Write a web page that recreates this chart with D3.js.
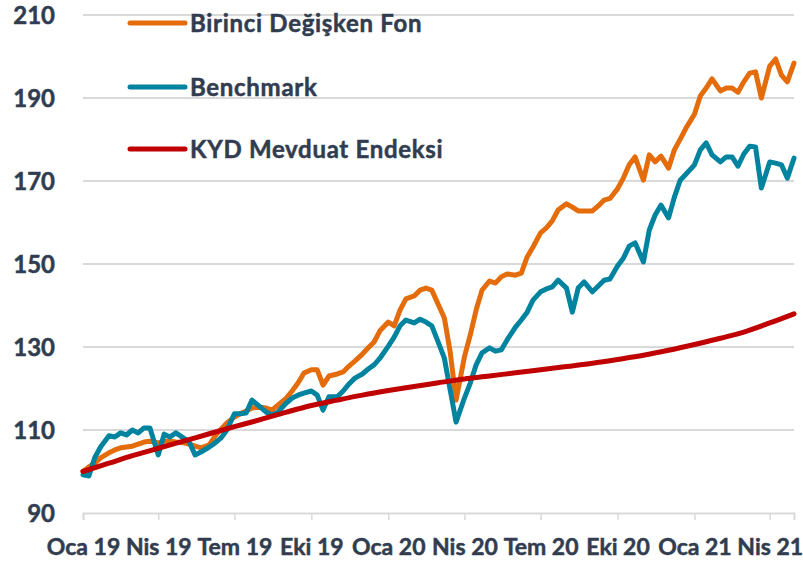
<!DOCTYPE html>
<html>
<head>
<meta charset="utf-8">
<script src="https://cdn.jsdelivr.net/npm/d3@7"></script>
<style>
  body { margin: 0; background: #ffffff; }
</style>
</head>
<body>
<script>

// weekly-ish sample dates for the two fund lines
const fundDates = [
  '2019-01-01','2019-01-08','2019-01-15','2019-01-22',
  '2019-02-01','2019-02-08','2019-02-15','2019-02-22',
  '2019-03-01','2019-03-08','2019-03-15','2019-03-22',
  '2019-04-01','2019-04-08','2019-04-15','2019-04-22',
  '2019-05-01','2019-05-08','2019-05-15','2019-05-22',
  '2019-06-01','2019-06-08','2019-06-15','2019-06-22',
  '2019-07-01','2019-07-08','2019-07-15','2019-07-22',
  '2019-08-01','2019-08-08','2019-08-15','2019-08-22',
  '2019-09-01','2019-09-08','2019-09-15','2019-09-22',
  '2019-10-01','2019-10-08','2019-10-15','2019-10-22',
  '2019-11-01','2019-11-08','2019-11-15','2019-11-22',
  '2019-12-01','2019-12-08','2019-12-15','2019-12-22',
  '2020-01-01','2020-01-08','2020-01-15','2020-01-22',
  '2020-02-01','2020-02-08','2020-02-15','2020-02-22',
  '2020-03-01','2020-03-08','2020-03-15','2020-03-22',
  '2020-04-01','2020-04-08','2020-04-15','2020-04-22',
  '2020-05-01','2020-05-08','2020-05-15','2020-05-22',
  '2020-06-01','2020-06-08','2020-06-15','2020-06-22',
  '2020-07-01','2020-07-08','2020-07-15','2020-07-22',
  '2020-08-01','2020-08-08','2020-08-15','2020-08-22',
  '2020-09-01','2020-09-08','2020-09-15','2020-09-22',
  '2020-10-01','2020-10-08','2020-10-15','2020-10-22',
  '2020-11-01','2020-11-08','2020-11-15','2020-11-22',
  '2020-12-01','2020-12-08','2020-12-15','2020-12-22',
  '2021-01-01','2021-01-08','2021-01-15','2021-01-22',
  '2021-02-01','2021-02-08','2021-02-15','2021-02-22',
  '2021-03-01','2021-03-08','2021-03-15','2021-03-22',
  '2021-04-01','2021-04-08','2021-04-15','2021-04-22',
  '2021-04-30'
];

// Birinci Değişken Fon
const fundValues = [
  100.0, 101.1, 102.0, 103.3,
  104.5, 105.2, 105.7, 105.9,
  106.1, 106.6, 107.1, 107.3,
  106.9, 107.3, 107.3, 107.1,
  106.9, 106.6, 106.1, 105.7,
  106.4, 108.6, 110.2, 111.7,
  113.1, 113.9, 114.6, 115.3,
  115.5, 115.3, 114.8, 116.0,
  117.7, 119.4, 121.3, 123.7,
  124.5, 124.5, 120.8, 123.0,
  123.5, 124.0, 125.4, 126.6,
  128.3, 129.8, 131.2, 133.9,
  136.0, 135.1, 138.9, 141.6,
  142.3, 143.7, 144.2, 143.7,
  140.1, 137.0, 128.8, 117.2,
  127.6, 132.9, 138.9, 143.7,
  145.9, 145.4, 146.9, 147.6,
  147.3, 147.8, 151.7, 154.1,
  157.5, 158.7, 160.4, 163.0,
  164.5, 163.7, 162.8, 162.8,
  162.8, 164.0, 165.4, 165.8,
  168.1, 170.7, 173.9, 175.8,
  170.2, 176.3, 174.6, 176.0,
  173.1, 177.5, 180.1, 182.8,
  186.1, 190.5, 192.4, 194.6,
  191.7, 192.4, 192.4, 191.4,
  193.9, 196.0, 196.3, 190.0,
  197.7, 199.4, 195.5, 193.9,
  198.4
];

// Benchmark
const benchmarkValues = [
  99.2, 98.9, 103.3, 105.9,
  108.6, 108.3, 109.3, 108.8,
  110.0, 109.3, 110.5, 110.5,
  104.0, 109.0, 108.3, 109.3,
  108.1, 107.1, 104.0, 104.7,
  105.9, 106.9, 108.1, 110.0,
  113.9, 113.9, 114.1, 117.2,
  115.5, 114.3, 113.6, 114.3,
  116.5, 117.7, 118.4, 118.9,
  119.4, 118.4, 114.8, 118.0,
  118.0, 119.4, 121.1, 122.5,
  123.5, 124.7, 125.7, 127.3,
  130.2, 132.4, 135.1, 136.5,
  135.8, 136.7, 136.0, 135.1,
  131.0, 127.3, 119.6, 111.9,
  117.7, 121.3, 125.7, 128.6,
  129.8, 129.0, 129.3, 131.7,
  134.8, 136.5, 138.4, 141.3,
  143.3, 144.0, 144.5, 146.1,
  144.2, 138.4, 144.2, 145.7,
  143.3, 144.7, 146.1, 146.4,
  149.5, 151.4, 154.3, 155.1,
  150.5, 158.2, 161.8, 164.2,
  161.1, 166.1, 170.2, 171.7,
  173.9, 177.5, 179.2, 176.3,
  174.6, 175.8, 175.8, 173.6,
  176.5, 178.4, 178.2, 168.3,
  174.6, 174.3, 173.9, 170.7,
  175.5
];

// KYD Mevduat Endeksi, monthly
const depositDates = [
  '2019-01-01','2019-02-01','2019-03-01','2019-04-01','2019-05-01','2019-06-01',
  '2019-07-01','2019-08-01','2019-09-01','2019-10-01','2019-11-01','2019-12-01',
  '2020-01-01','2020-02-01','2020-03-01','2020-04-01','2020-05-01','2020-06-01',
  '2020-07-01','2020-08-01','2020-09-01','2020-10-01','2020-11-01','2020-12-01',
  '2021-01-01','2021-02-01','2021-03-01','2021-04-01','2021-04-30'
];
const depositValues = [
  100.0, 102.0, 103.8, 105.6, 107.3, 109.1,
  110.8, 112.5, 114.3, 115.9, 117.2, 118.4,
  119.5, 120.5, 121.4, 122.3, 123.0, 123.8,
  124.5, 125.3, 126.1, 127.0, 128.0, 129.2,
  130.6, 132.1, 133.6, 135.8, 138.0
];

// axis ticks
const tickDates = ['2019-01-01','2019-04-01','2019-07-01','2019-10-01','2020-01-01',
                   '2020-04-01','2020-07-01','2020-10-01','2021-01-01','2021-04-01'];
const tickLabels = ['Oca 19','Nis 19','Tem 19','Eki 19','Oca 20',
                    'Nis 20','Tem 20','Eki 20','Oca 21','Nis 21'];
const yTicks = [90, 110, 130, 150, 170, 190, 210];

const seriesNames = ['Birinci Değişken Fon', 'Benchmark', 'KYD Mevduat Endeksi'];
const seriesColors = ['#E46C0A', '#00839F', '#C00000'];

const parseDate = d3.timeParse('%Y-%m-%d');

const width = 803;
const height = 567;
const margin = ({top: 15, right: 9, bottom: 54, left: 83});
const textColor = '#313D4F';

const svg = d3.select('body')
              .append('svg')
              .attr('width', width)
              .attr('height', height);

const xScale = d3.scaleTime()
                 .domain([parseDate('2019-01-01'), parseDate('2021-04-30')])
                 .range([margin.left, width - margin.right]);

const yScale = d3.scaleLinear()
                 .domain([90, 210])
                 .range([height - margin.bottom, margin.top]);

// horizontal gridlines
svg.append('g')
   .selectAll('line')
   .data(yTicks.filter(d => d > 90))
   .join('line')
   .attr('x1', margin.left)
   .attr('x2', width - margin.right)
   .attr('y1', d => yScale(d))
   .attr('y2', d => yScale(d))
   .attr('stroke', '#D9D9D9')
   .attr('stroke-width', 2);

// y labels
svg.append('g')
   .selectAll('text')
   .data(yTicks)
   .join('text')
   .attr('x', 55)
   .attr('y', d => yScale(d))
   .attr('dy', '0.36em')
   .attr('text-anchor', 'end')
   .attr('font-family', 'Lato')
   .attr('font-weight', 'bold')
   .attr('font-size', 24)
   .attr('fill', textColor)
   .attr('stroke', textColor)
   .attr('stroke-width', 0.5)
   .text(d => d);

// x axis
const xAxis = d3.axisBottom(xScale)
                .tickValues(tickDates.map(parseDate))
                .tickFormat((d, i) => tickLabels[i])
                .tickSize(7)
                .tickPadding(19);

const gx = svg.append('g')
   .attr('transform', `translate(0,${yScale(90)})`)
   .call(xAxis);

gx.select('.domain').attr('stroke', '#D9D9D9').attr('stroke-width', 2);
gx.selectAll('.tick line').attr('stroke', '#D9D9D9').attr('stroke-width', 1.5);
gx.selectAll('.tick text')
  .attr('font-family', 'Lato')
  .attr('font-weight', 'bold')
  .attr('font-size', 23)
  .attr('fill', textColor)
  .attr('stroke', textColor)
  .attr('stroke-width', 0.5);

// lines
const line = d3.line()
               .x(d => xScale(d.date))
               .y(d => yScale(d.value));

const fundData = fundDates.map((d, i) => ({date: parseDate(d), value: fundValues[i]}));
const benchData = fundDates.map((d, i) => ({date: parseDate(d), value: benchmarkValues[i]}));
const depositData = depositDates.map((d, i) => ({date: parseDate(d), value: depositValues[i]}));

const allSeries = [fundData, benchData, depositData];

svg.append('g')
   .selectAll('path')
   .data(allSeries)
   .join('path')
   .attr('d', (d, i) => i == 2 ? line.curve(d3.curveMonotoneX)(d) : line.curve(d3.curveLinear)(d))
   .attr('fill', 'none')
   .attr('stroke', (d, i) => seriesColors[i])
   .attr('stroke-width', 5)
   .attr('stroke-linejoin', 'round')
   .attr('stroke-linecap', 'round');

// legend
const legendY = [23, 87, 149];
const legend = svg.append('g')
   .selectAll('g')
   .data(seriesNames)
   .join('g')
   .attr('transform', (d, i) => `translate(130,${legendY[i]})`);

legend.append('line')
      .attr('x1', 0)
      .attr('x2', 55)
      .attr('stroke', (d, i) => seriesColors[i])
      .attr('stroke-width', 5)
      .attr('stroke-linecap', 'round');

legend.append('text')
      .attr('x', 60)
      .attr('dy', '0.36em')
      .attr('font-family', 'Lato')
      .attr('font-weight', 'bold')
      .attr('font-size', 24)
      .attr('letter-spacing', 0.7)
      .attr('fill', textColor)
      .attr('stroke', textColor)
      .attr('stroke-width', 0.5)
      .text(d => d);

</script>
</body>
</html>
